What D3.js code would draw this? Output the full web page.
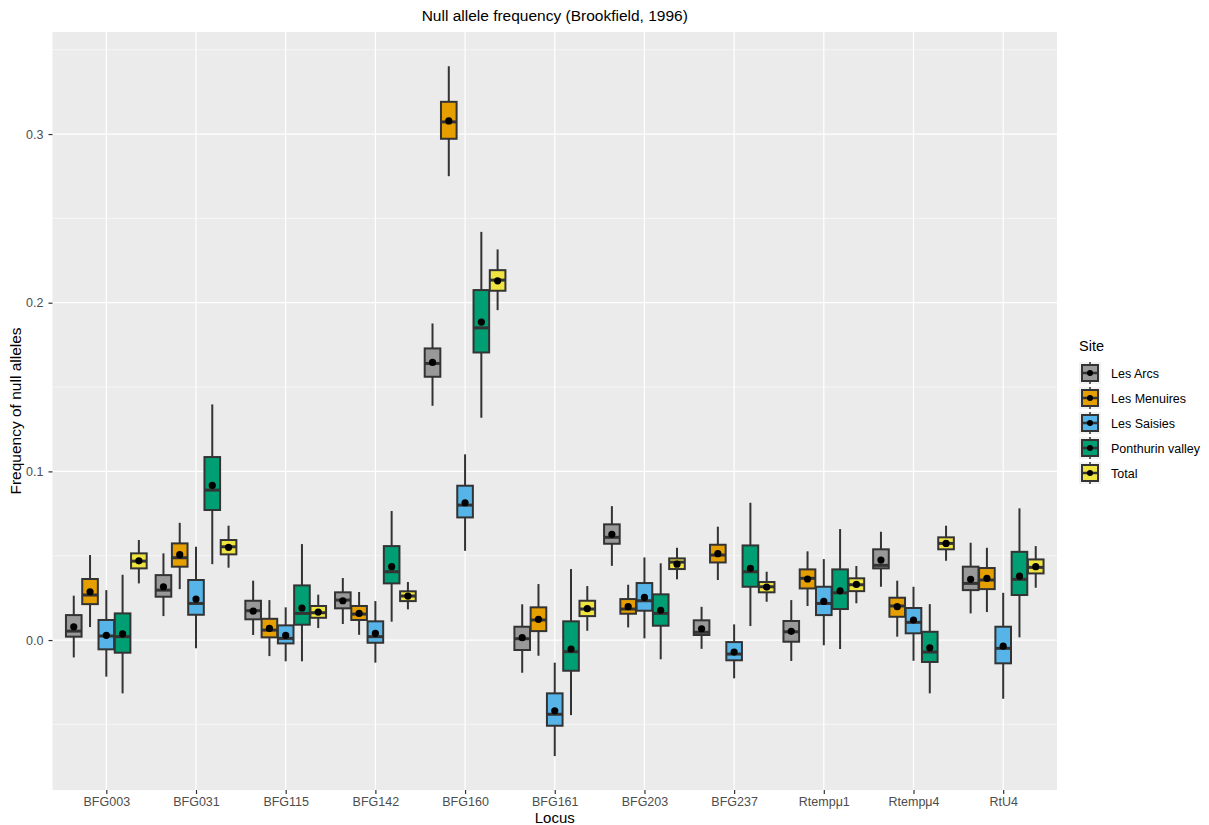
<!DOCTYPE html>
<html>
<head>
<meta charset="utf-8">
<script src="https://cdn.jsdelivr.net/npm/d3@7"></script>
<style>
  html, body { margin: 0; padding: 0; background: #ffffff; }
  svg { display: block; font-family: "Liberation Sans", Arial, sans-serif; }
</style>
</head>
<body>
<svg id="chart" width="1209" height="825"></svg>
<script>
// ---- data ----
const loci = ["BFG003","BFG031","BFG115","BFG142","BFG160","BFG161","BFG203","BFG237","Rtempμ1","Rtempμ4","RtU4"];
const sites = ["Les Arcs","Les Menuires","Les Saisies","Ponthurin valley","Total"];
const siteColors = ["#999999","#E69F00","#56B4E9","#009E73","#F0E442"];
const yTicks = [0.0, 0.1, 0.2, 0.3];
const yMinor = [-0.05, 0.05, 0.15, 0.25, 0.35];

// each entry per locus: [lowerWhisker, q1, median, q3, upperWhisker, mean]
const lesArcs = [
  [-0.0103, 0.0020, 0.0053, 0.0148, 0.0263, 0.0079],
  [ 0.0142, 0.0257, 0.0296, 0.0385, 0.0514, 0.0316],
  [ 0.0030, 0.0123, 0.0174, 0.0233, 0.0352, 0.0172],
  [ 0.0095, 0.0188, 0.0237, 0.0283, 0.0368, 0.0233],
  [ 0.1389, 0.1561, 0.1640, 0.1729, 0.1877, 0.1646],
  [-0.0194,-0.0059, 0.0008, 0.0079, 0.0212, 0.0014],
  [ 0.0440, 0.0571, 0.0609, 0.0686, 0.0794, 0.0627],
  [-0.0052, 0.0030, 0.0046, 0.0117, 0.0197, 0.0067],
  [-0.0124,-0.0010, 0.0049, 0.0113, 0.0237, 0.0052],
  [ 0.0316, 0.0425, 0.0443, 0.0538, 0.0642, 0.0474],
  [ 0.0158, 0.0296, 0.0336, 0.0435, 0.0577, 0.0360]
];
const lesMenuires = [
  [ 0.0077, 0.0213, 0.0267, 0.0362, 0.0504, 0.0286],
  [ 0.0302, 0.0435, 0.0488, 0.0573, 0.0695, 0.0506],
  [-0.0095, 0.0016, 0.0059, 0.0126, 0.0237, 0.0069],
  [ 0.0031, 0.0119, 0.0154, 0.0202, 0.0285, 0.0158],
  [ 0.2750, 0.2972, 0.3072, 0.3191, 0.3402, 0.3078],
  [-0.0093, 0.0053, 0.0119, 0.0194, 0.0332, 0.0123],
  [ 0.0075, 0.0156, 0.0184, 0.0243, 0.0328, 0.0198],
  [ 0.0356, 0.0460, 0.0504, 0.0565, 0.0672, 0.0512],
  [ 0.0202, 0.0306, 0.0366, 0.0419, 0.0526, 0.0362],
  [ 0.0020, 0.0138, 0.0202, 0.0251, 0.0352, 0.0198],
  [ 0.0166, 0.0302, 0.0356, 0.0427, 0.0547, 0.0366]
];
const lesSaisies = [
  [-0.0217,-0.0055, 0.0024, 0.0119, 0.0296, 0.0028],
  [-0.0049, 0.0150, 0.0217, 0.0356, 0.0553, 0.0243],
  [-0.0126,-0.0020, 0.0010, 0.0087, 0.0194, 0.0028],
  [-0.0134,-0.0016, 0.0020, 0.0111, 0.0231, 0.0040],
  [ 0.0529, 0.0727, 0.0800, 0.0915, 0.1101, 0.0814],
  [-0.0688,-0.0508,-0.0440,-0.0316,-0.0134,-0.0419],
  [ 0.0010, 0.0174, 0.0233, 0.0338, 0.0490, 0.0253],
  [-0.0227,-0.0120,-0.0083,-0.0012, 0.0093,-0.0071],
  [-0.0031, 0.0148, 0.0217, 0.0316, 0.0480, 0.0229],
  [-0.0123, 0.0040, 0.0105, 0.0190, 0.0316, 0.0119],
  [-0.0348,-0.0138,-0.0049, 0.0079, 0.0280,-0.0036]
];
const ponthurin = [
  [-0.0316,-0.0075, 0.0020, 0.0158, 0.0387, 0.0037],
  [ 0.0450, 0.0771, 0.0889, 0.1085, 0.1397, 0.0917],
  [-0.0126, 0.0091, 0.0158, 0.0324, 0.0569, 0.0190],
  [ 0.0109, 0.0336, 0.0405, 0.0557, 0.0765, 0.0435],
  [ 0.1318, 0.1705, 0.1851, 0.2075, 0.2420, 0.1885],
  [-0.0445,-0.0182,-0.0069, 0.0111, 0.0421,-0.0053],
  [-0.0114, 0.0085, 0.0158, 0.0271, 0.0455, 0.0176],
  [ 0.0083, 0.0316, 0.0405, 0.0561, 0.0814, 0.0425],
  [-0.0053, 0.0184, 0.0280, 0.0419, 0.0658, 0.0292],
  [-0.0316,-0.0130,-0.0071, 0.0049, 0.0213,-0.0046],
  [ 0.0016, 0.0267, 0.0360, 0.0523, 0.0781, 0.0379]
];
const total = [
  [ 0.0336, 0.0425, 0.0468, 0.0514, 0.0593, 0.0470],
  [ 0.0429, 0.0508, 0.0553, 0.0593, 0.0678, 0.0550],
  [ 0.0071, 0.0132, 0.0162, 0.0202, 0.0269, 0.0166],
  [ 0.0182, 0.0231, 0.0261, 0.0289, 0.0344, 0.0261],
  [ 0.1956, 0.2071, 0.2134, 0.2193, 0.2316, 0.2130],
  [ 0.0055, 0.0142, 0.0184, 0.0233, 0.0320, 0.0186],
  [ 0.0360, 0.0421, 0.0462, 0.0484, 0.0547, 0.0450],
  [ 0.0227, 0.0283, 0.0316, 0.0344, 0.0405, 0.0314],
  [ 0.0218, 0.0290, 0.0328, 0.0366, 0.0439, 0.0330],
  [ 0.0470, 0.0538, 0.0573, 0.0609, 0.0678, 0.0573],
  [ 0.0310, 0.0395, 0.0431, 0.0478, 0.0557, 0.0435]
];
const seriesData = [lesArcs, lesMenuires, lesSaisies, ponthurin, total];

// ---- layout ----
const svg = d3.select("#chart");
const panel = { left: 52.5, right: 1057, top: 32, bottom: 790 };
const yDomain = [-0.0889, 0.3605];

const x = d3.scalePoint().domain(loci).range([panel.left, panel.right]).padding(0.6);
const step = x.step();
const xSub = d3.scaleBand().domain(sites).range([-0.45 * step, 0.45 * step]).paddingInner(0.04).paddingOuter(0);
const y = d3.scaleLinear().domain(yDomain).range([panel.bottom, panel.top]);
const color = d3.scaleOrdinal().domain(sites).range(siteColors);

// panel background
svg.append("rect")
  .attr("x", panel.left).attr("y", panel.top)
  .attr("width", panel.right - panel.left).attr("height", panel.bottom - panel.top)
  .attr("fill", "#EBEBEB");

// minor gridlines
svg.append("g").selectAll("line").data(yMinor).join("line")
  .attr("x1", panel.left).attr("x2", panel.right)
  .attr("y1", d => y(d)).attr("y2", d => y(d))
  .attr("stroke", "#ffffff").attr("stroke-width", 0.6);

// major gridlines
svg.append("g").selectAll("line").data(yTicks).join("line")
  .attr("x1", panel.left).attr("x2", panel.right)
  .attr("y1", d => y(d)).attr("y2", d => y(d))
  .attr("stroke", "#ffffff").attr("stroke-width", 1.2);
svg.append("g").selectAll("line").data(loci).join("line")
  .attr("x1", d => x(d)).attr("x2", d => x(d))
  .attr("y1", panel.top).attr("y2", panel.bottom)
  .attr("stroke", "#ffffff").attr("stroke-width", 1.2);

// boxes
const boxW = xSub.bandwidth();
const lineCol = "#333333";
sites.forEach((site, si) => {
  const g = svg.append("g").attr("class", "series");
  const rows = seriesData[si].map((v, i) => ({ locus: loci[i], v }));
  const cx = d => x(d.locus) + xSub(site) + boxW / 2;
  // whiskers
  g.selectAll("line.wu").data(rows).join("line").attr("class", "wu")
    .attr("x1", cx).attr("x2", cx)
    .attr("y1", d => y(d.v[3])).attr("y2", d => y(d.v[4]))
    .attr("stroke", lineCol).attr("stroke-width", 2);
  g.selectAll("line.wl").data(rows).join("line").attr("class", "wl")
    .attr("x1", cx).attr("x2", cx)
    .attr("y1", d => y(d.v[1])).attr("y2", d => y(d.v[0]))
    .attr("stroke", lineCol).attr("stroke-width", 2);
  // box
  g.selectAll("rect").data(rows).join("rect")
    .attr("x", d => x(d.locus) + xSub(site))
    .attr("y", d => y(d.v[3]))
    .attr("width", boxW)
    .attr("height", d => y(d.v[1]) - y(d.v[3]))
    .attr("fill", color(site))
    .attr("stroke", lineCol).attr("stroke-width", 2);
  // median
  g.selectAll("line.med").data(rows).join("line").attr("class", "med")
    .attr("x1", d => x(d.locus) + xSub(site)).attr("x2", d => x(d.locus) + xSub(site) + boxW)
    .attr("y1", d => y(d.v[2])).attr("y2", d => y(d.v[2]))
    .attr("stroke", lineCol).attr("stroke-width", 3);
  // mean point
  g.selectAll("circle").data(rows).join("circle")
    .attr("cx", cx).attr("cy", d => y(d.v[5]))
    .attr("r", 3.6).attr("fill", "#000000");
});

// axes
const yAxis = d3.axisLeft(y).tickValues(yTicks).tickFormat(d3.format(".1f")).tickSize(4).tickPadding(5);
const gy = svg.append("g").attr("transform", `translate(${panel.left},0)`).call(yAxis);
gy.select(".domain").remove();
gy.selectAll(".tick line").attr("stroke", "#333333").attr("stroke-width", 1.2);
gy.selectAll(".tick text").attr("fill", "#4D4D4D").style("font-size", "12.5px");

const xAxis = d3.axisBottom(x).tickSize(4).tickPadding(3);
const gx = svg.append("g").attr("transform", `translate(0,${panel.bottom})`).call(xAxis);
gx.select(".domain").remove();
gx.selectAll(".tick line").attr("stroke", "#333333").attr("stroke-width", 1.2);
gx.selectAll(".tick text").attr("fill", "#4D4D4D").style("font-size", "12.5px");

// titles
const midX = (panel.left + panel.right) / 2;
svg.append("text").attr("x", midX).attr("y", 21).attr("text-anchor", "middle")
  .style("font-size", "15.5px").attr("fill", "#000").text("Null allele frequency (Brookfield, 1996)");
svg.append("text").attr("x", midX).attr("y", 823).attr("text-anchor", "middle")
  .style("font-size", "15px").attr("fill", "#000").text("Locus");
svg.append("text")
  .attr("transform", `translate(21,${(panel.top + panel.bottom) / 2}) rotate(-90)`)
  .attr("text-anchor", "middle").style("font-size", "15.5px").attr("fill", "#000")
  .text("Frequency of null alleles");

// legend
const lg = svg.append("g").attr("transform", "translate(1079,0)");
lg.append("text").attr("x", 0).attr("y", 351).style("font-size", "14.5px").attr("fill", "#000").text("Site");
const keyY = d3.scalePoint().domain(sites).range([373, 473]);
sites.forEach(site => {
  const ky = keyY(site);
  const k = lg.append("g").attr("transform", `translate(0,${ky})`);
  k.append("rect").attr("x", 0).attr("y", -11).attr("width", 22).attr("height", 22).attr("fill", "#F2F2F2");
  k.append("line").attr("x1", 11).attr("x2", 11).attr("y1", -11).attr("y2", 11).attr("stroke", lineCol).attr("stroke-width", 1.5);
  k.append("rect").attr("x", 3).attr("y", -8).attr("width", 16).attr("height", 16)
    .attr("fill", color(site)).attr("stroke", lineCol).attr("stroke-width", 2);
  k.append("line").attr("x1", 3).attr("x2", 19).attr("y1", 0).attr("y2", 0).attr("stroke", lineCol).attr("stroke-width", 2.5);
  k.append("circle").attr("cx", 11).attr("cy", 0).attr("r", 3).attr("fill", "#000");
  lg.append("text").attr("x", 32).attr("y", ky + 4.5).style("font-size", "12.5px").attr("fill", "#000").text(site);
});
</script>
</body>
</html>
